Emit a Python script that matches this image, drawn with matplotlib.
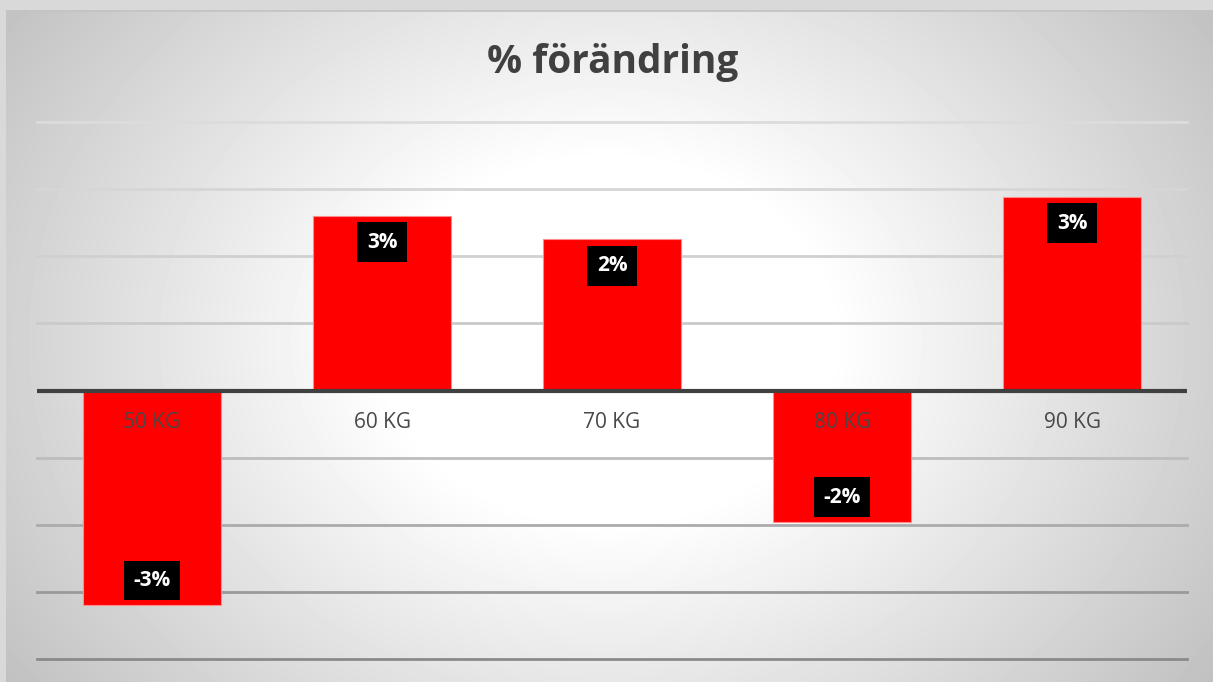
import numpy as np
import matplotlib
matplotlib.use("Agg")
import matplotlib.pyplot as plt

categories = ["50 KG", "60 KG", "70 KG", "80 KG", "90 KG"]
values = [-0.032, 0.026, 0.0225, -0.0196, 0.0288]
labels = ["-3%", "3%", "2%", "-2%", "3%"]
grid_levels = [0.04, 0.03, 0.02, 0.01, -0.01, -0.02, -0.03, -0.04]
grid_colors = ["#dcdcdc", "#d6d6d6", "#d0d0d0", "#cacaca",
               "#bdbdbd", "#ababab", "#9a9a9a", "#8a8a8a"]

W, H = 1213, 682
fig = plt.figure(figsize=(W / 100, H / 100), dpi=100)
fig.patch.set_facecolor("#d9d9d9")

# radial gradient background of the chart area
bg = fig.add_axes([6 / W, 0, 1 - 6 / W, 1 - 10 / H])
yy, xx = np.mgrid[0:672, 0:1207]
r = np.sqrt(((xx - 600) / 1.25) ** 2 + (yy - 330) ** 2)
shade = np.clip(1.0 - (r - 180) / 420 * 0.25, 0.75, 1.0)
bg.imshow(shade, cmap="gray", vmin=0, vmax=1, aspect="auto",
          extent=[0, 1, 0, 1], interpolation="bilinear")
bg.set_xlim(0, 1)
bg.set_ylim(0, 1)
bg.axis("off")
bg.axhline(1, color="#c4c4c4", lw=2)

ax = fig.add_axes([37 / W, 1 - 659 / H, (1187 - 37) / W, (659 - 122) / H])
ax.patch.set_alpha(0)
x = np.arange(len(categories))
ax.set_xlim(-0.5, len(categories) - 0.5)
ax.set_ylim(-0.04, 0.04)

for lvl, c in zip(grid_levels, grid_colors):
    ax.axhline(lvl, color=c, lw=2, zorder=1, clip_on=False)

bars = ax.bar(x, values, width=0.6, color="#ff0000", edgecolor="#ff8c8c",
              linewidth=0.8, zorder=2)
ax.axhline(0, color="#404040", lw=3, zorder=3)

for xi, v, lab in zip(x, values, labels):
    off = -0.0039 if v > 0 else 0.0037
    ax.text(xi, v + off, lab, ha="center", va="center", color="white",
            fontsize=15, fontweight="bold", family="Open Sans", zorder=5,
            bbox=dict(boxstyle="square,pad=0.45", fc="black", ec="none"))
    ax.text(xi, -0.0048, categories[xi], ha="center", va="center",
            color="#484848", fontsize=15, family="Open Sans", zorder=4)

for s in ax.spines.values():
    s.set_visible(False)
ax.set_xticks([])
ax.set_yticks([])

fig.text(0.505, 1 - 62 / H, "% förändring", ha="center", va="center",
         fontsize=28, fontweight="bold", color="#404040", family="Open Sans")

fig.savefig("out.png", dpi=100, facecolor=fig.get_facecolor())
